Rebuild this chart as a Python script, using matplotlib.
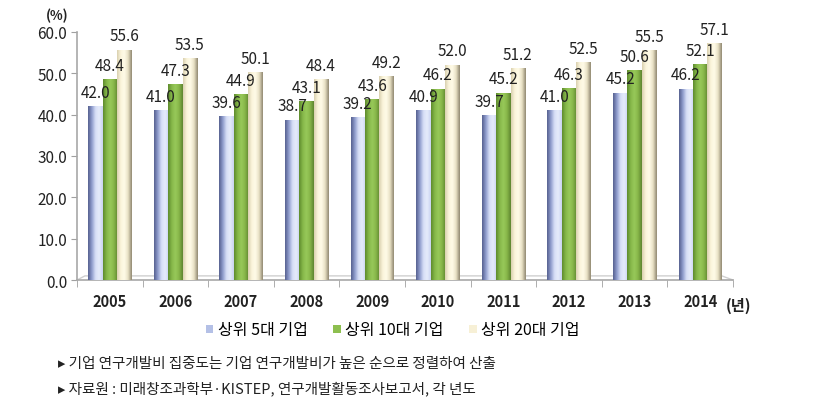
import numpy as np
import matplotlib
matplotlib.use("Agg")
import matplotlib.pyplot as plt
from matplotlib.colors import LinearSegmentedColormap

plt.rcParams['font.family'] = ['Noto Sans CJK KR', 'DejaVu Sans']

# --- data ---
years = ["2005", "2006", "2007", "2008", "2009", "2010", "2011", "2012", "2013", "2014"]
top5 = [42.0, 41.0, 39.6, 38.7, 39.2, 40.9, 39.7, 41.0, 45.2, 46.2]
top10 = [48.4, 47.3, 44.9, 43.1, 43.6, 46.2, 45.2, 46.3, 50.6, 52.1]
top20 = [55.6, 53.5, 50.1, 48.4, 49.2, 52.0, 51.2, 52.5, 55.5, 57.1]
series_names = ["상위 5대 기업", "상위 10대 기업", "상위 20대 기업"]
y_ticks = [0, 10, 20, 30, 40, 50, 60]
notes = ["▸ 기업 연구개발비 집중도는 기업 연구개발비가 높은 순으로 정렬하여 산출",
         "▸ 자료원 : 미래창조과학부·KISTEP, 연구개발활동조사보고서, 각 년도"]

# base colours + gradient stops (left -> right) to imitate the 3D bars
base_colors = ["#b4c0e6", "#8dbf4f", "#f7f0d6"]
gradients = [
    ["#56608f", "#8e9bcc", "#d6def6", "#e6ecfb", "#c8d2f0"],
    ["#5e8a2c", "#86b84a", "#98c95a", "#86b548", "#5d8430"],
    ["#d9cfae", "#fbf5dc", "#fffbe8", "#e8e0c4", "#8f8770"],
]

fig = plt.figure(figsize=(8.29, 4.10), dpi=100)
ax = fig.add_axes([0.0929, 0.3146, 0.7913, 0.605])

x = np.arange(len(years))
w = 0.22
for i, (vals, col, grad) in enumerate(zip([top5, top10, top20], base_colors, gradients)):
    off = (i - 1) * w
    bars = ax.bar(x + off, vals, width=w, color=col, label=series_names[i], zorder=2)
    cmap = LinearSegmentedColormap.from_list(f"g{i}", grad)
    img = np.linspace(0, 1, 64).reshape(1, -1)
    for b in bars:
        x0, wd, h = b.get_x(), b.get_width(), b.get_height()
        ax.imshow(img, cmap=cmap, extent=[x0, x0 + wd, 0, h], aspect='auto',
                  zorder=3, interpolation='bicubic')
    for xi, v in zip(x + off, vals):
        ax.text(xi, v + 1.4, f"{v:.1f}", ha='center', va='bottom', fontsize=11,
                color="#222222", zorder=5)

ax.set_xlim(-0.5, len(years) - 0.5)
ax.set_ylim(0, 60)

# floor of the 3D plot
ax.plot([-0.5, -0.38, len(years) - 0.67, len(years) - 0.5], [0, 1, 1, 0],
        color="#d0d0d0", lw=1.0, zorder=1, clip_on=False)

ax.set_yticks(y_ticks)
ax.set_yticklabels([f"{t:.1f}" for t in y_ticks], fontsize=11, color="#222222")
ax.set_xticks(x)
ax.set_xticklabels(years, fontsize=10.5, fontweight='semibold', color="#222222")
ax.set_xticks(np.arange(-0.5, len(years)), minor=True)
ax.tick_params(axis='x', which='major', length=0, pad=9)
ax.tick_params(axis='x', which='minor', length=5, color="#a0a0a0", direction='out')
ax.tick_params(axis='y', length=4, color="#a0a0a0", pad=3)

for s in ["top", "right"]:
    ax.spines[s].set_visible(False)
for s in ["left", "bottom"]:
    ax.spines[s].set_color("#a8a8a8")
    ax.spines[s].set_linewidth(1.2)

fig.text(57 / 829, 1 - 16 / 410, "(%)", ha='center', va='center', fontsize=9.5,
         fontweight='bold', color="#222222")
fig.text(739 / 829, 1 - 306 / 410, "(년)", ha='center', va='center', fontsize=11,
         fontweight='bold', color="#222222")

leg = fig.legend(loc='center', bbox_to_anchor=(393 / 829, 1 - 331 / 410), ncol=3,
                 frameon=False, fontsize=11.5, handlelength=0.45, handleheight=0.45,
                 handletextpad=0.3, columnspacing=1.6)

fig.text(58 / 829, 1 - 364 / 410, notes[0], ha='left', va='center', fontsize=10.5,
         color="#222222")
fig.text(58 / 829, 1 - 389 / 410, notes[1], ha='left', va='center', fontsize=10.5,
         color="#222222")

fig.savefig("out.png", dpi=100)
